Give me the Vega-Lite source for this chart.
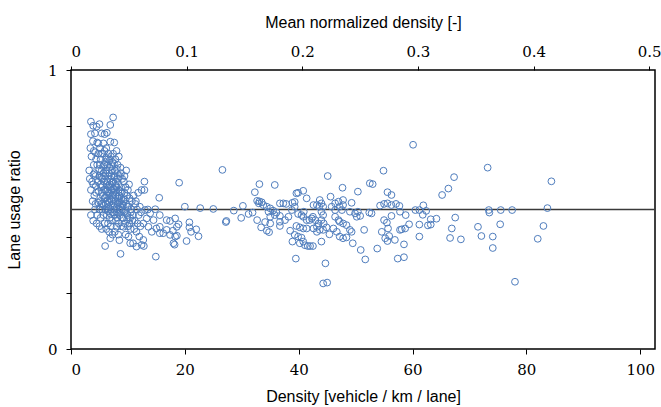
{
"$schema": "https://vega.github.io/schema/vega-lite/v6.json",
"width": 584, "height": 279,
"autosize": "none",
"padding": {"left": 71, "top": 70, "right": 6, "bottom": 58},
"config": {
  "view": {"stroke": "#000", "strokeWidth": 1.5},
  "axis": {"grid": false, "domain": false, "ticks": true, "tickOpacity": 1, "tickColor": "#000", "labelColor": "#000", "titleColor": "#000",
    "labelFont": "DejaVu Serif", "labelFontSize": 15, "titleFont": "Liberation Sans", "titleFontSize": 16,
    "titleFontWeight": "normal", "tickSize": 5, "tickWidth": 1}
},
"layer": [
  {
    "data": {"values": [{"n": 0}, {"n": 0.5}]},
    "mark": {"type": "point", "opacity": 0},
    "encoding": {
      "x": {"field": "n", "type": "quantitative", "scale": {"domain": [0, 0.505], "nice": false, "zero": false},
        "axis": {"orient": "top", "values": [0, 0.1, 0.2, 0.3, 0.4, 0.5], "title": "Mean normalized density [-]",
          "labelExpr": "datum.value == 0 ? '0' : format(datum.value, '.1f')", "tickSize": 4, "labelPadding": 7, "titlePadding": 14}}
    }
  },
  {
    "data": {"values": [{"r": 0.5}]},
    "mark": {"type": "rule", "color": "#3a3a3a", "strokeWidth": 1.3},
    "encoding": {"y": {"field": "r", "type": "quantitative", "scale": {"domain": [0, 1], "nice": false}}}
  },
  {
    "data": {"values": [
{"d":3.2,"r":0.64},{"d":3.3,"r":0.61},{"d":3.5,"r":0.57},{"d":3.8,"r":0.53},{"d":3.5,"r":0.48},{"d":4.2,"r":0.5},{"d":3.4,"r":0.72},{"d":3.5,"r":0.77},{"d":3.5,"r":0.815},{"d":3.9,"r":0.8},{"d":4.5,"r":0.797},{"d":4.2,"r":0.773},{"d":3.6,"r":0.69},{"d":4.0,"r":0.66},{"d":4.3,"r":0.62},{"d":3.9,"r":0.59},{"d":4.4,"r":0.56},{"d":4.1,"r":0.55},{"d":3.7,"r":0.6},{"d":4.4,"r":0.68},{"d":4.0,"r":0.71},{"d":4.6,"r":0.74},{"d":4.3,"r":0.52},{"d":4.5,"r":0.45},{"d":3.9,"r":0.46},{"d":4.6,"r":0.48},{"d":4.8,"r":0.7},{"d":4.1,"r":0.63},{"d":4.7,"r":0.6},{"d":4.6,"r":0.66},
{"d":5.0,"r":0.806},{"d":5.4,"r":0.773},{"d":4.8,"r":0.737},{"d":5.7,"r":0.737},{"d":5.0,"r":0.44},{"d":5.2,"r":0.47},{"d":5.5,"r":0.5},{"d":5.1,"r":0.53},{"d":5.6,"r":0.55},{"d":5.3,"r":0.58},{"d":5.8,"r":0.6},{"d":5.0,"r":0.62},{"d":5.4,"r":0.64},{"d":5.9,"r":0.66},{"d":5.2,"r":0.68},{"d":5.6,"r":0.7},{"d":5.1,"r":0.72},{"d":5.9,"r":0.71},{"d":5.5,"r":0.61},{"d":5.8,"r":0.57},{"d":5.3,"r":0.52},{"d":5.7,"r":0.48},{"d":5.9,"r":0.45},{"d":5.4,"r":0.43},{"d":6.0,"r":0.369},{"d":5.2,"r":0.59},{"d":5.7,"r":0.63},{"d":5.1,"r":0.66},{"d":5.6,"r":0.52},{"d":5.9,"r":0.54},{"d":5.4,"r":0.56},{"d":5.0,"r":0.5},{"d":5.8,"r":0.62},{"d":5.3,"r":0.7},{"d":5.9,"r":0.77},
{"d":6.3,"r":0.775},{"d":6.9,"r":0.743},{"d":6.9,"r":0.803},{"d":7.4,"r":0.83},{"d":6.2,"r":0.72},{"d":6.6,"r":0.7},{"d":7.0,"r":0.69},{"d":7.3,"r":0.67},{"d":6.4,"r":0.66},{"d":6.8,"r":0.65},{"d":7.2,"r":0.64},{"d":6.1,"r":0.63},{"d":6.5,"r":0.62},{"d":6.9,"r":0.61},{"d":7.4,"r":0.6},{"d":6.2,"r":0.59},{"d":6.7,"r":0.58},{"d":7.1,"r":0.57},{"d":7.5,"r":0.56},{"d":6.3,"r":0.55},{"d":6.8,"r":0.54},{"d":7.2,"r":0.53},{"d":6.1,"r":0.52},{"d":6.6,"r":0.51},{"d":7.0,"r":0.5},{"d":7.4,"r":0.49},{"d":6.3,"r":0.48},{"d":6.8,"r":0.47},{"d":7.2,"r":0.46},{"d":6.5,"r":0.45},{"d":7.0,"r":0.44},{"d":6.2,"r":0.43},{"d":6.9,"r":0.397},{"d":6.7,"r":0.42},{"d":7.3,"r":0.41},{"d":6.4,"r":0.6},{"d":6.0,"r":0.67},{"d":6.6,"r":0.56},{"d":7.3,"r":0.55},{"d":6.0,"r":0.5},{"d":7.1,"r":0.62},{"d":6.5,"r":0.68},{"d":7.4,"r":0.7},{"d":6.2,"r":0.64},{"d":6.8,"r":0.59},{"d":7.5,"r":0.52},{"d":6.4,"r":0.53},{"d":7.0,"r":0.58},{"d":6.7,"r":0.63},{"d":6.1,"r":0.57},
{"d":6.05,"r":0.545},{"d":6.35,"r":0.565},{"d":6.55,"r":0.585},{"d":6.85,"r":0.555},{"d":7.15,"r":0.595},{"d":7.45,"r":0.575},{"d":6.25,"r":0.505},{"d":6.75,"r":0.525},{"d":7.05,"r":0.535},{"d":7.35,"r":0.515},{"d":6.45,"r":0.495},{"d":6.95,"r":0.485},{"d":5.75,"r":0.515},{"d":5.55,"r":0.585},{"d":5.25,"r":0.615},{"d":5.65,"r":0.655},{"d":6.15,"r":0.685},{"d":6.75,"r":0.675},{"d":7.25,"r":0.655},{"d":7.65,"r":0.615},{"d":7.85,"r":0.585},{"d":8.15,"r":0.545},{"d":8.45,"r":0.525},{"d":7.95,"r":0.505},{"d":8.35,"r":0.485},{"d":8.75,"r":0.495},{"d":9.15,"r":0.515},{"d":9.45,"r":0.535},{"d":9.65,"r":0.495},{"d":9.85,"r":0.465},{"d":8.65,"r":0.565},{"d":8.05,"r":0.645},{"d":7.55,"r":0.665},{"d":4.85,"r":0.565},{"d":4.95,"r":0.645},{"d":4.75,"r":0.525},{"d":4.35,"r":0.585},{"d":3.95,"r":0.625},{"d":4.25,"r":0.705},{"d":3.85,"r":0.745},
{"d":7.6,"r":0.74},{"d":8.0,"r":0.71},{"d":8.4,"r":0.69},{"d":7.8,"r":0.68},{"d":8.2,"r":0.66},{"d":8.7,"r":0.65},{"d":7.7,"r":0.64},{"d":8.1,"r":0.63},{"d":8.6,"r":0.62},{"d":9.0,"r":0.61},{"d":7.9,"r":0.6},{"d":8.3,"r":0.59},{"d":8.8,"r":0.58},{"d":7.6,"r":0.57},{"d":8.0,"r":0.56},{"d":8.5,"r":0.55},{"d":8.9,"r":0.54},{"d":7.8,"r":0.53},{"d":8.2,"r":0.52},{"d":8.7,"r":0.51},{"d":7.6,"r":0.5},{"d":8.1,"r":0.49},{"d":8.6,"r":0.48},{"d":9.0,"r":0.47},{"d":7.9,"r":0.46},{"d":8.4,"r":0.45},{"d":8.8,"r":0.44},{"d":8.0,"r":0.438},{"d":7.7,"r":0.42},{"d":8.3,"r":0.41},{"d":8.7,"r":0.341},{"d":8.5,"r":0.39},{"d":9.0,"r":0.5},{"d":7.8,"r":0.55},{"d":8.4,"r":0.57},{"d":8.9,"r":0.56},{"d":8.2,"r":0.61},{"d":7.6,"r":0.62},{"d":8.6,"r":0.53},{"d":9.0,"r":0.52},{"d":8.1,"r":0.47},{"d":7.7,"r":0.48},{"d":8.5,"r":0.5},{"d":8.8,"r":0.63},{"d":8.0,"r":0.58},{"d":8.4,"r":0.54},
{"d":9.2,"r":0.438},{"d":9.3,"r":0.6},{"d":9.6,"r":0.58},{"d":10.0,"r":0.57},{"d":9.4,"r":0.56},{"d":9.8,"r":0.55},{"d":10.3,"r":0.54},{"d":9.2,"r":0.53},{"d":9.7,"r":0.52},{"d":10.1,"r":0.51},{"d":10.6,"r":0.5},{"d":9.3,"r":0.49},{"d":9.9,"r":0.48},{"d":10.4,"r":0.47},{"d":10.8,"r":0.46},{"d":9.5,"r":0.45},{"d":10.0,"r":0.44},{"d":10.5,"r":0.43},{"d":10.1,"r":0.403},{"d":10.4,"r":0.379},{"d":10.9,"r":0.379},{"d":9.6,"r":0.41},{"d":9.4,"r":0.62},{"d":10.2,"r":0.59},{"d":10.7,"r":0.53},{"d":11.0,"r":0.55},{"d":9.9,"r":0.51},{"d":10.5,"r":0.49},{"d":9.2,"r":0.47},{"d":10.9,"r":0.48},{"d":9.7,"r":0.64},{"d":10.3,"r":0.45},
{"d":11.3,"r":0.52},{"d":11.6,"r":0.5},{"d":11.9,"r":0.48},{"d":11.2,"r":0.46},{"d":11.7,"r":0.45},{"d":12.1,"r":0.51},{"d":13.0,"r":0.498},{"d":13.9,"r":0.486},{"d":13.3,"r":0.468},{"d":14.5,"r":0.462},{"d":12.0,"r":0.403},{"d":12.7,"r":0.391},{"d":12.8,"r":0.369},{"d":12.9,"r":0.6},{"d":12.9,"r":0.57},{"d":12.4,"r":0.57},{"d":11.5,"r":0.367},{"d":12.4,"r":0.373},{"d":12.7,"r":0.45},{"d":13.6,"r":0.438},{"d":14.2,"r":0.42},{"d":11.4,"r":0.53},{"d":11.8,"r":0.56},{"d":12.3,"r":0.49},{"d":11.1,"r":0.43},{"d":12.2,"r":0.44},{"d":13.5,"r":0.5},{"d":11.5,"r":0.42},
{"d":14.9,"r":0.331},{"d":14.8,"r":0.501},{"d":15.5,"r":0.542},{"d":15.6,"r":0.48},{"d":16.8,"r":0.462},{"d":18.3,"r":0.468},{"d":18.6,"r":0.438},{"d":15.0,"r":0.432},{"d":15.6,"r":0.415},{"d":16.2,"r":0.415},{"d":16.8,"r":0.427},{"d":17.4,"r":0.409},{"d":15.6,"r":0.438},{"d":18.0,"r":0.379},{"d":18.3,"r":0.403},{"d":17.4,"r":0.459},{"d":18.9,"r":0.447},{"d":17.9,"r":0.424},{"d":18.6,"r":0.406},{"d":18.2,"r":0.374},{"d":19.0,"r":0.596},{"d":20.0,"r":0.51},{"d":20.3,"r":0.387},{"d":20.8,"r":0.454},{"d":20.8,"r":0.436},{"d":21.1,"r":0.42},{"d":22.0,"r":0.429},{"d":22.4,"r":0.404},{"d":22.7,"r":0.505},{"d":25.0,"r":0.502},{"d":26.6,"r":0.642},
{"d":27.3,"r":0.459},{"d":27.2,"r":0.455},{"d":28.6,"r":0.496},{"d":29.9,"r":0.47},{"d":30.2,"r":0.513},{"d":31.2,"r":0.484},{"d":31.9,"r":0.489},{"d":32.3,"r":0.562},{"d":33.1,"r":0.591},{"d":32.7,"r":0.531},{"d":33.1,"r":0.529},{"d":33.5,"r":0.526},{"d":33.0,"r":0.522},{"d":32.7,"r":0.462},{"d":33.4,"r":0.436},{"d":34.4,"r":0.424},{"d":34.8,"r":0.419},{"d":34.1,"r":0.455},{"d":35.0,"r":0.45},{"d":33.8,"r":0.516},{"d":34.4,"r":0.51},{"d":35.0,"r":0.504},{"d":34.7,"r":0.492},{"d":35.5,"r":0.496},{"d":36.1,"r":0.489},{"d":35.0,"r":0.474},{"d":35.8,"r":0.48},{"d":36.7,"r":0.477},{"d":35.8,"r":0.588},{"d":36.7,"r":0.522},{"d":37.3,"r":0.522},{"d":37.8,"r":0.52},{"d":36.7,"r":0.456},{"d":36.7,"r":0.441},{"d":37.6,"r":0.462},{"d":38.2,"r":0.474},{"d":38.5,"r":0.424},{"d":38.8,"r":0.498},{"d":39.3,"r":0.51},{"d":38.9,"r":0.524},{"d":39.3,"r":0.527},{"d":39.6,"r":0.558},{"d":39.9,"r":0.56},{"d":40.8,"r":0.567},{"d":41.4,"r":0.54},{"d":38.9,"r":0.385},{"d":39.5,"r":0.324},{"d":39.3,"r":0.409},{"d":39.9,"r":0.403},{"d":40.5,"r":0.399},{"d":40.2,"r":0.379},{"d":40.8,"r":0.385},{"d":41.1,"r":0.372},{"d":41.6,"r":0.369},{"d":42.0,"r":0.369},{"d":42.5,"r":0.369},{"d":39.6,"r":0.441},{"d":40.2,"r":0.436},{"d":40.8,"r":0.432},{"d":41.4,"r":0.432},{"d":39.9,"r":0.484},{"d":40.5,"r":0.48},{"d":40.9,"r":0.492},{"d":40.8,"r":0.474},{"d":41.4,"r":0.462},{"d":41.9,"r":0.462},{"d":42.3,"r":0.468},{"d":42.6,"r":0.516},{"d":43.2,"r":0.516},{"d":43.7,"r":0.534},{"d":44.0,"r":0.522},{"d":43.6,"r":0.51},{"d":44.3,"r":0.51},{"d":42.5,"r":0.474},{"d":42.9,"r":0.462},{"d":43.5,"r":0.45},{"d":43.2,"r":0.438},{"d":43.7,"r":0.427},{"d":42.6,"r":0.432},{"d":43.2,"r":0.42},{"d":44.0,"r":0.492},{"d":44.3,"r":0.48},{"d":44.0,"r":0.462},{"d":44.4,"r":0.45},{"d":44.9,"r":0.436},{"d":44.3,"r":0.427},{"d":44.0,"r":0.385},{"d":44.7,"r":0.307},{"d":44.3,"r":0.235},{"d":45.0,"r":0.238},{"d":45.1,"r":0.62},{"d":45.6,"r":0.546},{"d":45.4,"r":0.411},{"d":46.1,"r":0.432},{"d":46.7,"r":0.42},{"d":45.8,"r":0.51},{"d":46.4,"r":0.522},{"d":47.0,"r":0.528},{"d":46.4,"r":0.498},{"d":47.2,"r":0.51},{"d":47.6,"r":0.498},{"d":47.8,"r":0.534},{"d":47.8,"r":0.516},{"d":46.4,"r":0.474},{"d":47.0,"r":0.462},{"d":47.2,"r":0.456},{"d":47.8,"r":0.45},{"d":48.4,"r":0.444},{"d":47.7,"r":0.578},{"d":47.2,"r":0.403},{"d":47.8,"r":0.397},{"d":48.4,"r":0.4},{"d":49.5,"r":0.379},{"d":49.0,"r":0.427},{"d":49.3,"r":0.42},{"d":49.3,"r":0.524},{"d":49.0,"r":0.492},{"d":49.9,"r":0.486},{"d":50.2,"r":0.474},{"d":50.4,"r":0.492},{"d":50.4,"r":0.564},{"d":50.9,"r":0.355},{"d":51.5,"r":0.427},{"d":51.7,"r":0.321},{"d":52.4,"r":0.489},{"d":52.5,"r":0.594},
{"d":60.1,"r":0.732},{"d":53.0,"r":0.591},{"d":54.9,"r":0.639},{"d":55.6,"r":0.562},{"d":56.3,"r":0.552},{"d":54.3,"r":0.514},{"d":55.0,"r":0.52},{"d":55.6,"r":0.522},{"d":56.3,"r":0.516},{"d":57.1,"r":0.52},{"d":57.7,"r":0.513},{"d":50.8,"r":0.477},{"d":52.8,"r":0.486},{"d":57.8,"r":0.492},{"d":58.8,"r":0.48},{"d":55.0,"r":0.462},{"d":55.5,"r":0.453},{"d":56.3,"r":0.477},{"d":55.7,"r":0.432},{"d":54.6,"r":0.42},{"d":55.2,"r":0.397},{"d":55.6,"r":0.387},{"d":55.9,"r":0.405},{"d":57.8,"r":0.427},{"d":58.1,"r":0.429},{"d":58.7,"r":0.432},{"d":59.4,"r":0.447},{"d":56.9,"r":0.391},{"d":58.5,"r":0.375},{"d":53.8,"r":0.36},{"d":57.4,"r":0.324},{"d":58.5,"r":0.329},{"d":60.5,"r":0.498},{"d":61.2,"r":0.498},{"d":61.9,"r":0.515},{"d":62.4,"r":0.495},{"d":61.8,"r":0.481},{"d":61.2,"r":0.446},{"d":62.7,"r":0.443},{"d":63.2,"r":0.446},{"d":63.2,"r":0.465},{"d":64.2,"r":0.467},{"d":61.2,"r":0.403},{"d":65.2,"r":0.552},{"d":66.3,"r":0.575},{"d":67.3,"r":0.616},{"d":67.5,"r":0.471},{"d":66.9,"r":0.432},{"d":66.6,"r":0.398},{"d":68.5,"r":0.393},{"d":71.5,"r":0.438},{"d":72.1,"r":0.405},{"d":73.2,"r":0.65},{"d":73.4,"r":0.498},{"d":73.5,"r":0.489},{"d":74.1,"r":0.403},{"d":74.1,"r":0.362},{"d":75.4,"r":0.447},{"d":75.5,"r":0.498},{"d":77.5,"r":0.498},{"d":78.0,"r":0.241},{"d":82.0,"r":0.395},{"d":83.0,"r":0.441},{"d":83.7,"r":0.505},{"d":84.4,"r":0.601}
    ]},
    "mark": {"type": "point", "shape": "circle", "filled": false, "color": "#4f7dbd", "size": 46, "strokeWidth": 1, "opacity": 1},
    "encoding": {
      "x": {"field": "d", "type": "quantitative", "scale": {"domain": [0, 102.6], "nice": false, "zero": false},
        "axis": {"orient": "bottom", "values": [0, 20, 40, 60, 80, 100], "format": "d", "title": "Density [vehicle / km / lane]",
          "labelPadding": 8, "titlePadding": 11}},
      "y": {"field": "r", "type": "quantitative", "scale": {"domain": [0, 1], "nice": false},
        "axis": {"values": [0, 0.1, 0.2, 0.3, 0.4, 0.5, 0.6, 0.7, 0.8, 0.9, 1], "tickCount": 10, "labelOverlap": false,
          "labelExpr": "datum.value == 0 ? '0' : datum.value == 0.5 ? '0.5' : datum.value == 1 ? '1' : ''",
          "title": "Lane usage ratio", "labelPadding": 9, "titlePadding": 25}}
    }
  }
],
"resolve": {"scale": {"x": "independent"}, "axis": {"x": "independent"}}
}
